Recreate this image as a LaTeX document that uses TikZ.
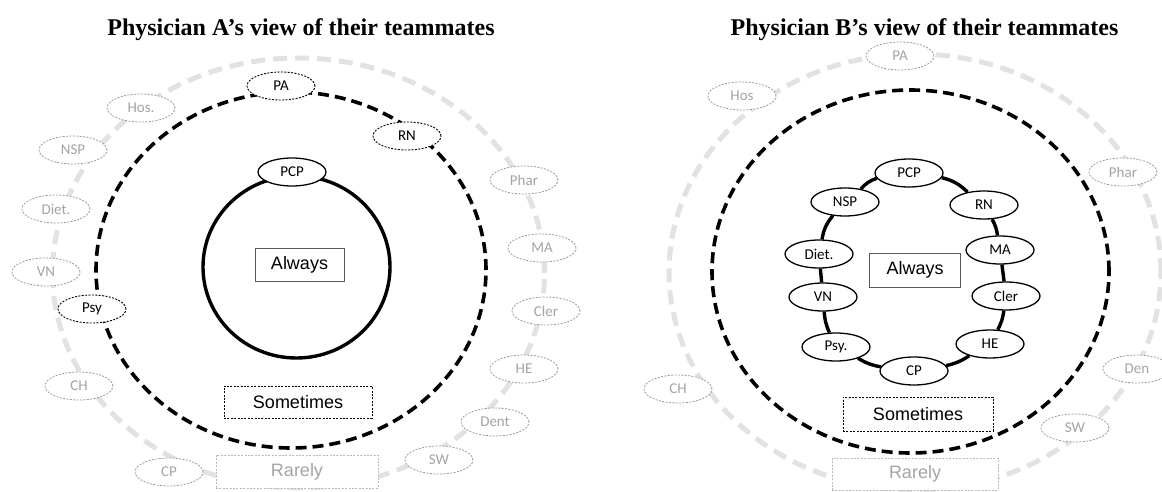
\documentclass[tikz,border=0pt]{standalone}
\usepackage{fontspec}
\setmainfont{Liberation Serif}
\newfontfamily\calfont{Carlito}
\newfontfamily\arialfont{Liberation Sans}
\usetikzlibrary{shapes.geometric}
\definecolor{ringgray}{HTML}{E2E2E2}
\definecolor{nodegray}{HTML}{9A9A9A}
\definecolor{textgray}{HTML}{A4A4A4}
\definecolor{boxgray}{HTML}{BBBBBB}
\begin{document}
\begin{tikzpicture}[x=1pt,y=1pt,
  titletext/.style={font=\bfseries\fontsize{24}{26}\selectfont, anchor=base},
  member/.style={ellipse, minimum width=68pt, minimum height=28pt, inner sep=0pt, fill=white, font=\calfont\fontsize{15}{17}\selectfont},
  rarenode/.style={member, draw=nodegray, line width=0.8pt, dash pattern=on 2pt off 1.4pt, text=textgray},
  somenode/.style={member, draw=black, line width=0.9pt, dash pattern=on 2pt off 1.4pt},
  alwaysnode/.style={member, draw=black, line width=1.3pt},
  levelbox/.style={rectangle, inner sep=0pt, fill=white, font=\arialfont\fontsize{18}{20}\selectfont},
  alwaysbox/.style={levelbox, draw=black!65, line width=0.9pt},
  somebox/.style={levelbox, draw=black, line width=0.8pt, dash pattern=on 2pt off 1.4pt},
  rarebox/.style={levelbox, draw=boxgray, line width=0.8pt, dash pattern=on 2pt off 1.4pt, text=textgray},
  rarering/.style={draw=ringgray, line width=5pt, dash pattern=on 14pt off 8pt},
  somering/.style={draw=black, line width=3.6pt, dash pattern=on 11pt off 6pt},
  alwaysring/.style={draw=black, line width=3.4pt},
  ringlink/.style={draw=black, line width=3.4pt},
]
\useasboundingbox (0,-492) rectangle (1162,0);
\fill[white] (0,-492) rectangle (1162,0);

% ---------------- Physician A ----------------
\node[titletext] (ta) at (301,-36) {Physician A’s view of their teammates};
\draw[rarering] (298.5,-273) ellipse [x radius=246pt, y radius=215pt];
\draw[somering] (291,-270) ellipse [x radius=195pt, y radius=178pt];
\draw[alwaysring] (296.5,-267) ellipse [x radius=93.5pt, y radius=91pt];

\node[alwaysnode] (aPCP) at (292,-172) {PCP};
\node[alwaysbox, minimum width=89pt, minimum height=33pt] (aAlways) at (299.5,-265) {Always};
\node[somebox, minimum width=148pt, minimum height=32pt] (aSometimes) at (298,-402) {Sometimes};
\node[rarebox, minimum width=162pt, minimum height=33pt] (aRarely) at (297,-471.5) {Rarely};

\node[somenode] (aPA) at (281,-86) {PA};
\node[somenode] (aRN) at (407,-136) {RN};
\node[somenode] (aPsy) at (92,-309) {Psy};

\node[rarenode] (aHos) at (141,-108) {Hos.};
\node[rarenode] (aNSP) at (73,-150) {NSP};
\node[rarenode] (aDiet) at (56,-209) {Diet.};
\node[rarenode] (aVN) at (46,-272) {VN};
\node[rarenode] (aCH) at (79,-386) {CH};
\node[rarenode] (aCP) at (169,-472) {CP};
\node[rarenode] (aSW) at (439,-460) {SW};
\node[rarenode] (aDent) at (495,-422) {Dent};
\node[rarenode] (aHE) at (524,-369) {HE};
\node[rarenode] (aCler) at (546,-311) {Cler};
\node[rarenode] (aMA) at (542,-248) {MA};
\node[rarenode] (aPhar) at (524,-180) {Phar};

% ---------------- Physician B ----------------
\node[titletext] (tb) at (924.5,-36) {Physician B’s view of their teammates};
\draw[rarering] (915,-272) ellipse [x radius=246pt, y radius=218pt];
\draw[somering] (910.5,-271.5) ellipse [x radius=198.5pt, y radius=181.5pt];

\node[rarenode] (bPA) at (900,-56) {PA};
\node[rarenode] (bHos) at (742,-96) {Hos};
\node[rarenode] (bPhar) at (1123,-172) {Phar};
\node[rarenode] (bCH) at (678,-389) {CH};
\node[rarenode] (bDen) at (1137,-369) {Den};
\node[rarenode] (bSW) at (1075,-428) {SW};

\node[alwaysbox, minimum width=91pt, minimum height=34pt] (bAlways) at (915,-270) {Always};
\node[somebox, minimum width=150pt, minimum height=34pt] (bSometimes) at (918,-414) {Sometimes};
\node[rarebox, minimum width=166pt, minimum height=32pt] (bRarely) at (915,-474) {Rarely};

\node[alwaysnode] (bPCP) at (909,-173) {PCP};
\node[alwaysnode] (bNSP) at (845,-202) {NSP};
\node[alwaysnode] (bRN) at (984,-205) {RN};
\node[alwaysnode] (bMA) at (1000,-250) {MA};
\node[alwaysnode] (bDiet) at (819,-254) {Diet.};
\node[alwaysnode] (bVN) at (823,-297) {VN};
\node[alwaysnode] (bCler) at (1006,-296) {Cler};
\node[alwaysnode] (bPsy) at (836,-347) {Psy.};
\node[alwaysnode] (bHE) at (990,-344) {HE};
\node[alwaysnode] (bCP) at (914,-371) {CP};

\draw[ringlink] (bPCP) to[bend right=15] (bNSP);
\draw[ringlink] (bNSP) to[bend right=15] (bDiet);
\draw[ringlink] (bDiet) -- (bVN);
\draw[ringlink] (bVN) to[bend right=10] (bPsy);
\draw[ringlink] (bPsy) to[bend right=10] (bCP);
\draw[ringlink] (bCP) to[bend right=10] (bHE);
\draw[ringlink] (bHE) to[bend right=10] (bCler);
\draw[ringlink] (bCler) -- (bMA);
\draw[ringlink] (bMA) to[bend right=10] (bRN);
\draw[ringlink] (bRN) to[bend right=15] (bPCP);
\end{tikzpicture}
\end{document}
